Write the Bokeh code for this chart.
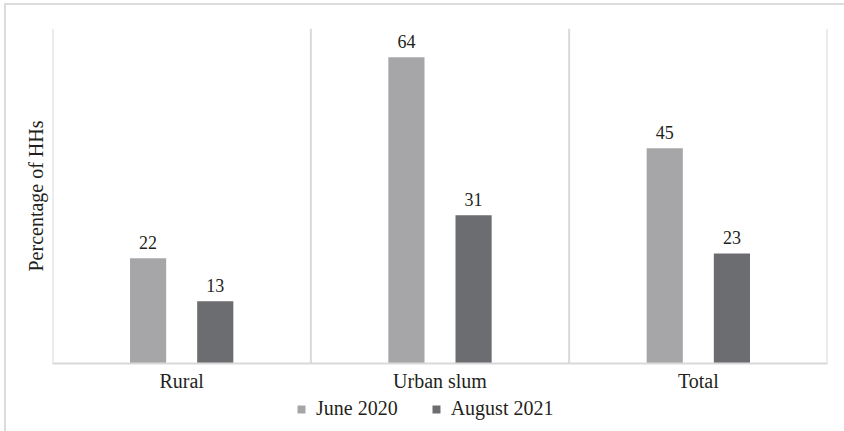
from bokeh.plotting import figure
from bokeh.layouts import column
from bokeh.models import (FactorRange, Range1d, Span, LabelSet, ColumnDataSource,
                          Legend, LegendItem, FixedTicker)
from bokeh.transform import dodge
from bokeh.embed import file_html
from bokeh.resources import INLINE

categories = ["Rural", "Urban slum", "Total"]
june_2020 = [22, 64, 45]
august_2021 = [13, 31, 23]
series_names = ["June 2020", "August 2021"]

FONT = "Liberation Serif"
TEXT = "#231F20"
GRID = "#D9D9D9"
C_JUNE = "#A6A6A9"
C_AUG = "#6C6D70"

src = ColumnDataSource(dict(
    cat=categories,
    june=june_2020,
    aug=august_2021,
    june_lbl=[str(v) for v in june_2020],
    aug_lbl=[str(v) for v in august_2021],
))

p = figure(x_range=FactorRange(*categories, range_padding=0),
           y_range=Range1d(0, 70),
           width=838, height=390, output_backend="svg", toolbar_location=None,
           min_border_left=46, min_border_top=23, min_border_right=17, min_border_bottom=32)
p.outline_line_color = None
p.background_fill_color = "white"
p.border_fill_color = "white"
p.xgrid.grid_line_color = None
p.ygrid.grid_line_color = None

for loc in [0, 1, 2, 3]:
    p.add_layout(Span(location=loc, dimension="height", line_color=GRID, line_width=2))

r1 = p.vbar(x=dodge("cat", -0.13, range=p.x_range), top="june", width=0.14, source=src,
            fill_color=C_JUNE, line_color=None)
r2 = p.vbar(x=dodge("cat", 0.13, range=p.x_range), top="aug", width=0.14, source=src,
            fill_color=C_AUG, line_color=None)

for col, lbl, off in [("june", "june_lbl", -0.13), ("aug", "aug_lbl", 0.13)]:
    p.add_layout(LabelSet(x=dodge("cat", off, range=p.x_range), y=col, text=lbl, source=src,
                          y_offset=9, text_align="center", text_baseline="alphabetic",
                          text_font=FONT, text_font_size="18px", text_color=TEXT))

xa = p.xaxis[0]
xa.axis_line_color = GRID
xa.axis_line_width = 2
xa.major_tick_line_color = None
xa.major_tick_out = 0
xa.minor_tick_line_color = None
xa.major_label_standoff = 6
xa.major_label_text_font = FONT
xa.major_label_text_font_size = "20px"
xa.major_label_text_color = TEXT

ya = p.yaxis[0]
ya.ticker = FixedTicker(ticks=[])
ya.axis_line_color = None
ya.major_tick_line_color = None
ya.minor_tick_line_color = None
ya.major_tick_out = 0
ya.axis_label = "Percentage of HHs"
ya.axis_label_standoff = 6
ya.axis_label_text_font = FONT
ya.axis_label_text_font_size = "20px"
ya.axis_label_text_font_style = "normal"
ya.axis_label_text_color = TEXT

# legend strip below the chart (proxy glyphs kept outside the visible range)
leg = figure(width=838, height=36, output_backend="svg", toolbar_location=None,
             x_range=Range1d(0, 1), y_range=Range1d(0, 1),
             x_axis_location=None, y_axis_location=None,
             min_border=0, min_border_left=0, min_border_right=0,
             min_border_top=0, min_border_bottom=0)
leg.outline_line_color = None
leg.xgrid.visible = False
leg.ygrid.visible = False
proxy = ColumnDataSource(dict(x=[-10], top=[-10]))
l1 = leg.vbar(x="x", top="top", width=0.1, source=proxy, fill_color=C_JUNE, line_color=None)
l2 = leg.vbar(x="x", top="top", width=0.1, source=proxy, fill_color=C_AUG, line_color=None)
legend = Legend(items=[LegendItem(label=series_names[0], renderers=[l1]),
                       LegendItem(label=series_names[1], renderers=[l2])],
                orientation="horizontal", location=(244, 11),
                glyph_width=10, glyph_height=10, label_standoff=10, spacing=33,
                padding=0, margin=0, border_line_color=None, background_fill_alpha=0,
                label_text_font=FONT, label_text_font_size="20px", label_text_color=TEXT)
leg.add_layout(legend, "center")

layout = column(p, leg, spacing=0,
                styles={"margin-left": "4px", "margin-top": "3px",
                        "border-left": "2px solid #DCDCDC", "border-top": "2px solid #DCDCDC"})

open("out.html", "w").write(file_html(layout, INLINE))
